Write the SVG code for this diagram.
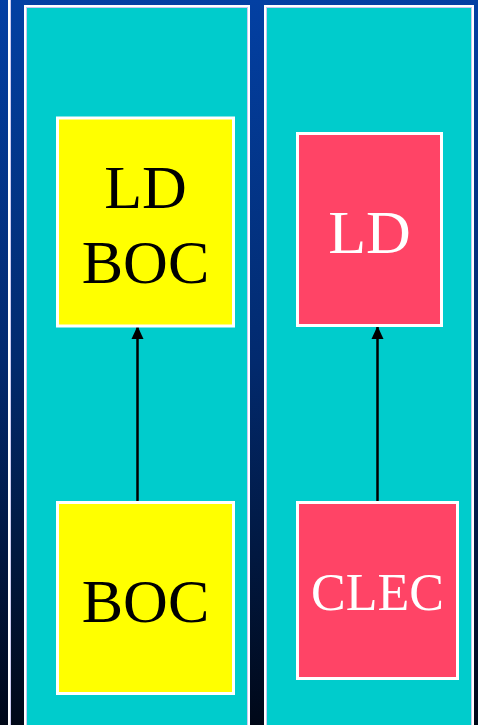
<svg xmlns="http://www.w3.org/2000/svg" width="478" height="725" viewBox="0 0 478 725">
<defs>
<linearGradient id="bg" x1="0" y1="0" x2="0" y2="1">
<stop offset="0" stop-color="#0340A3"/>
<stop offset="0.5" stop-color="#022a6e"/>
<stop offset="1" stop-color="#000818"/>
</linearGradient>
<marker id="arr" markerWidth="13" markerHeight="14" refX="13" refY="6.5" orient="auto" markerUnits="userSpaceOnUse" viewBox="0 0 14 13">
<path d="M0,0 L14,6.5 L0,13 Z" fill="#000"/>
</marker>
</defs>
<style>
.panel{fill:#00CCCC;stroke:#fff;stroke-width:2}
.inner{fill:none;stroke:#c8c8f0;stroke-width:1}
.yel{fill:#FFFF00;stroke:#fff;stroke-width:3}
.red{fill:#FF4466;stroke:#fff;stroke-width:3}
.t{font-family:"Liberation Serif","Times New Roman",serif;text-anchor:middle}
.conn{stroke:#000;stroke-width:2.5;fill:none}
</style>
<rect x="0" y="0" width="478" height="725" fill="url(#bg)"/>
<line x1="9" y1="0" x2="9" y2="725" stroke="#fff" stroke-width="2"/>
<line x1="10.5" y1="0" x2="10.5" y2="725" stroke="#c8c8f0" stroke-width="1"/>
<g id="panel-left">
<rect class="panel" x="25" y="6" width="224" height="730"/>
<rect class="inner" x="26.5" y="7.5" width="221" height="730"/>
</g>
<g id="panel-right">
<rect class="panel" x="265" y="6" width="208" height="730"/>
<rect class="inner" x="266.5" y="7.5" width="205" height="730"/>
</g>
<g id="connectors">
<line class="conn" x1="137.5" y1="502" x2="137.5" y2="327" marker-end="url(#arr)"/>
<line class="conn" x1="377.5" y1="502" x2="377.5" y2="327" marker-end="url(#arr)"/>
</g>
<g id="ld-boc">
<rect class="yel" x="57.5" y="118" width="176" height="208"/>
<text class="t" x="145.5" y="208" font-size="62" fill="#000">LD</text>
<text class="t" x="145.5" y="283" font-size="62" fill="#000">BOC</text>
</g>
<g id="boc">
<rect class="yel" x="57.5" y="502.5" width="176" height="191"/>
<text class="t" x="145.5" y="622" font-size="62" fill="#000">BOC</text>
</g>
<g id="ld">
<rect class="red" x="297.5" y="133.5" width="144" height="192"/>
<text class="t" x="369.5" y="253" font-size="62" fill="#fff">LD</text>
</g>
<g id="clec">
<rect class="red" x="297.5" y="502.5" width="160" height="176"/>
<text class="t" x="377.5" y="610" font-size="52" fill="#fff">CLEC</text>
</g>
</svg>
